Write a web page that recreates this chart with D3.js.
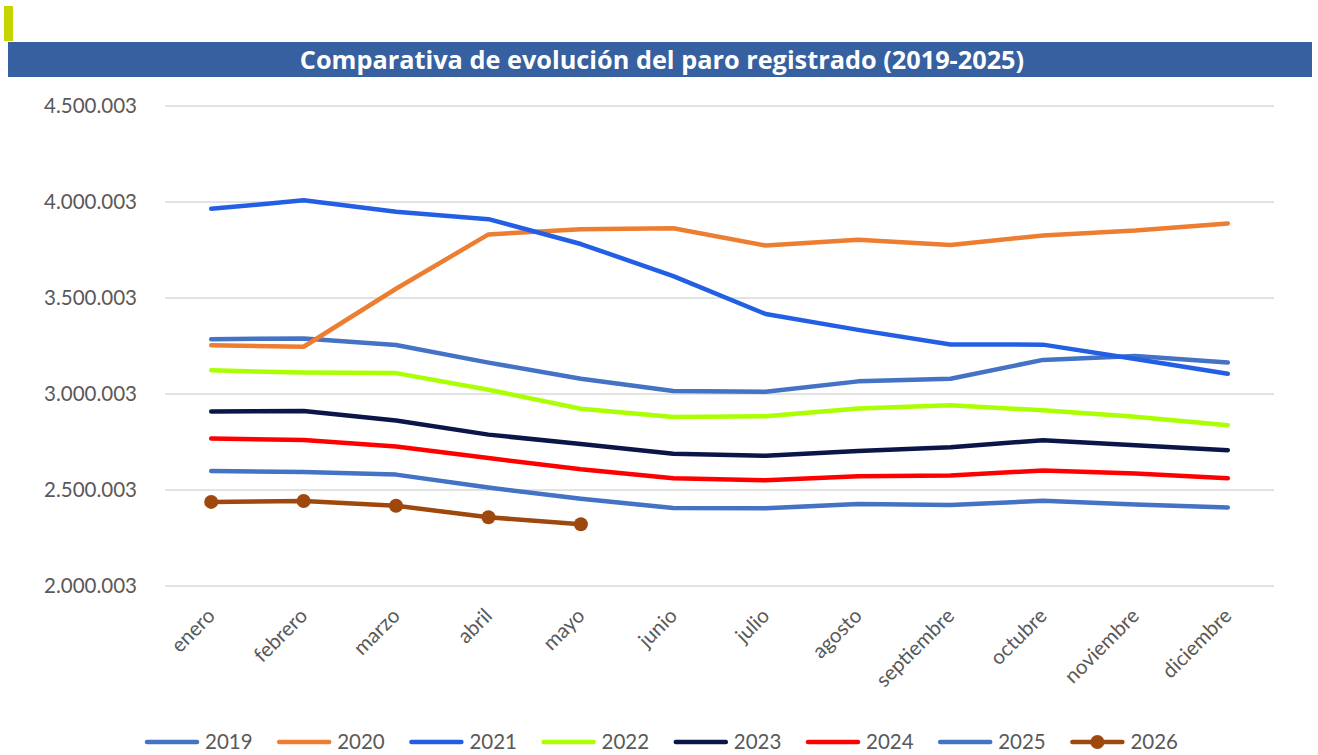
<!DOCTYPE html>
<html><head><meta charset="utf-8">
<script src="https://cdn.jsdelivr.net/npm/d3@7"></script>
<style>body{margin:0;background:#fff}svg{display:block}</style>
</head><body>
<script>
const months = ["enero","febrero","marzo","abril","mayo","junio","julio","agosto","septiembre","octubre","noviembre","diciembre"];
const yTicks = [2000003, 2500003, 3000003, 3500003, 4000003, 4500003];
const title = "Comparativa de evolución del paro registrado (2019-2025)";
const s2019 = [3285761,3289040,3255084,3163566,3079491,3015686,3011433,3065804,3079711,3177659,3198184,3163605];
const s2020 = [3253853,3246047,3548312,3831203,3857776,3862883,3773034,3802814,3776485,3826043,3851312,3888137];
const s2021 = [3964353,4008789,3949640,3910628,3781250,3614339,3416498,3333915,3257802,3257068,3182687,3105905];
const s2022 = [3123078,3111684,3108763,3022503,2922991,2880582,2883812,2924240,2941919,2914892,2881380,2837653];
const s2023 = [2908397,2911015,2862260,2788370,2739110,2688842,2677874,2702700,2722468,2759404,2733629,2707456];
const s2024 = [2767860,2760408,2727003,2666500,2607850,2561067,2550237,2572121,2575285,2602054,2586018,2560718];
const s2025 = [2599443,2593449,2580138,2512718,2454883,2405963,2404606,2426511,2421665,2443766,2424843,2408670];
const s2026 = [2438000,2442500,2418000,2358000,2322000];
const seriesNames = ["2019","2020","2021","2022","2023","2024","2025","2026"];
const seriesValues = [s2019,s2020,s2021,s2022,s2023,s2024,s2025,s2026];
const seriesColors = ["#4472C4","#ED7D31","#235FE4","#AAFF00","#0A1548","#FF0000","#4472C4","#9E480E"];
const seriesMarkers = [false,false,false,false,false,false,false,true];

const W=1318,H=755;
const svg=d3.select("body").append("svg").attr("width",W).attr("height",H);
const font="Lato, 'Open Sans', sans-serif";

// header decoration
svg.append("rect").attr("x",4).attr("y",6).attr("width",9).attr("height",35).attr("fill","#C5D300");
svg.append("rect").attr("x",8).attr("y",42).attr("width",1304).attr("height",35).attr("fill","#3660A0");
svg.append("text").attr("x",662).attr("y",69).attr("text-anchor","middle")
  .attr("font-family","'Open Sans', sans-serif").attr("font-weight",700).attr("font-size",25.3)
  .attr("fill","#fff").text(title);

const x=d3.scaleBand().domain(months).range([165,1274]);
const y=d3.scaleLinear().domain([2000003,4500003]).range([586,106]);

// grid
svg.append("g").selectAll("line").data(yTicks).join("line")
  .attr("x1",165).attr("x2",1274).attr("y1",d=>y(d)).attr("y2",d=>y(d))
  .attr("stroke","#D9D9D9").attr("stroke-width",1.5);

// y axis
const fmt=d=>d3.format(",")(d).replace(/,/g,".");
const ya=svg.append("g").attr("transform","translate(145,0)")
  .call(d3.axisLeft(y).tickValues(yTicks).tickFormat(fmt).tickSize(0).tickPadding(8));
ya.select(".domain").remove();
ya.selectAll("text").attr("font-family",font).attr("font-size",20.5).attr("fill","#595959");

// x axis
const xa=svg.append("g").attr("transform","translate(0,608)")
  .call(d3.axisBottom(x).tickSize(0).tickPadding(0));
xa.select(".domain").remove();
xa.selectAll("text").attr("font-family",font).attr("font-size",20.5).attr("fill","#595959")
  .attr("text-anchor","end").attr("dy","0.35em")
  .attr("transform","translate(0,4) rotate(-45)");

// lines
const line=d3.line().x((d,i)=>x(months[i])+x.bandwidth()/2).y(d=>y(d));
seriesValues.forEach((vals,k)=>{
  svg.append("path").datum(vals).attr("d",line).attr("fill","none")
    .attr("stroke",seriesColors[k]).attr("stroke-width",4.5)
    .attr("stroke-linecap","round").attr("stroke-linejoin","round");
  if(seriesMarkers[k]){
    svg.append("g").selectAll("circle").data(vals).join("circle")
      .attr("cx",(d,i)=>x(months[i])+x.bandwidth()/2).attr("cy",d=>y(d)).attr("r",7)
      .attr("fill",seriesColors[k]);
  }
});

// legend
const lg=svg.append("g");
seriesNames.forEach((n,k)=>{
  const x0=147+k*132.2, yy=742;
  lg.append("line").attr("x1",x0).attr("x2",x0+50).attr("y1",yy).attr("y2",yy)
    .attr("stroke",seriesColors[k]).attr("stroke-width",4.5).attr("stroke-linecap","round");
  if(seriesMarkers[k]) lg.append("circle").attr("cx",x0+25).attr("cy",yy).attr("r",7).attr("fill",seriesColors[k]);
  lg.append("text").attr("x",x0+58).attr("y",yy+7).attr("font-family",font).attr("font-size",20.5)
    .attr("fill","#595959").text(n);
});
</script>
</body></html>
